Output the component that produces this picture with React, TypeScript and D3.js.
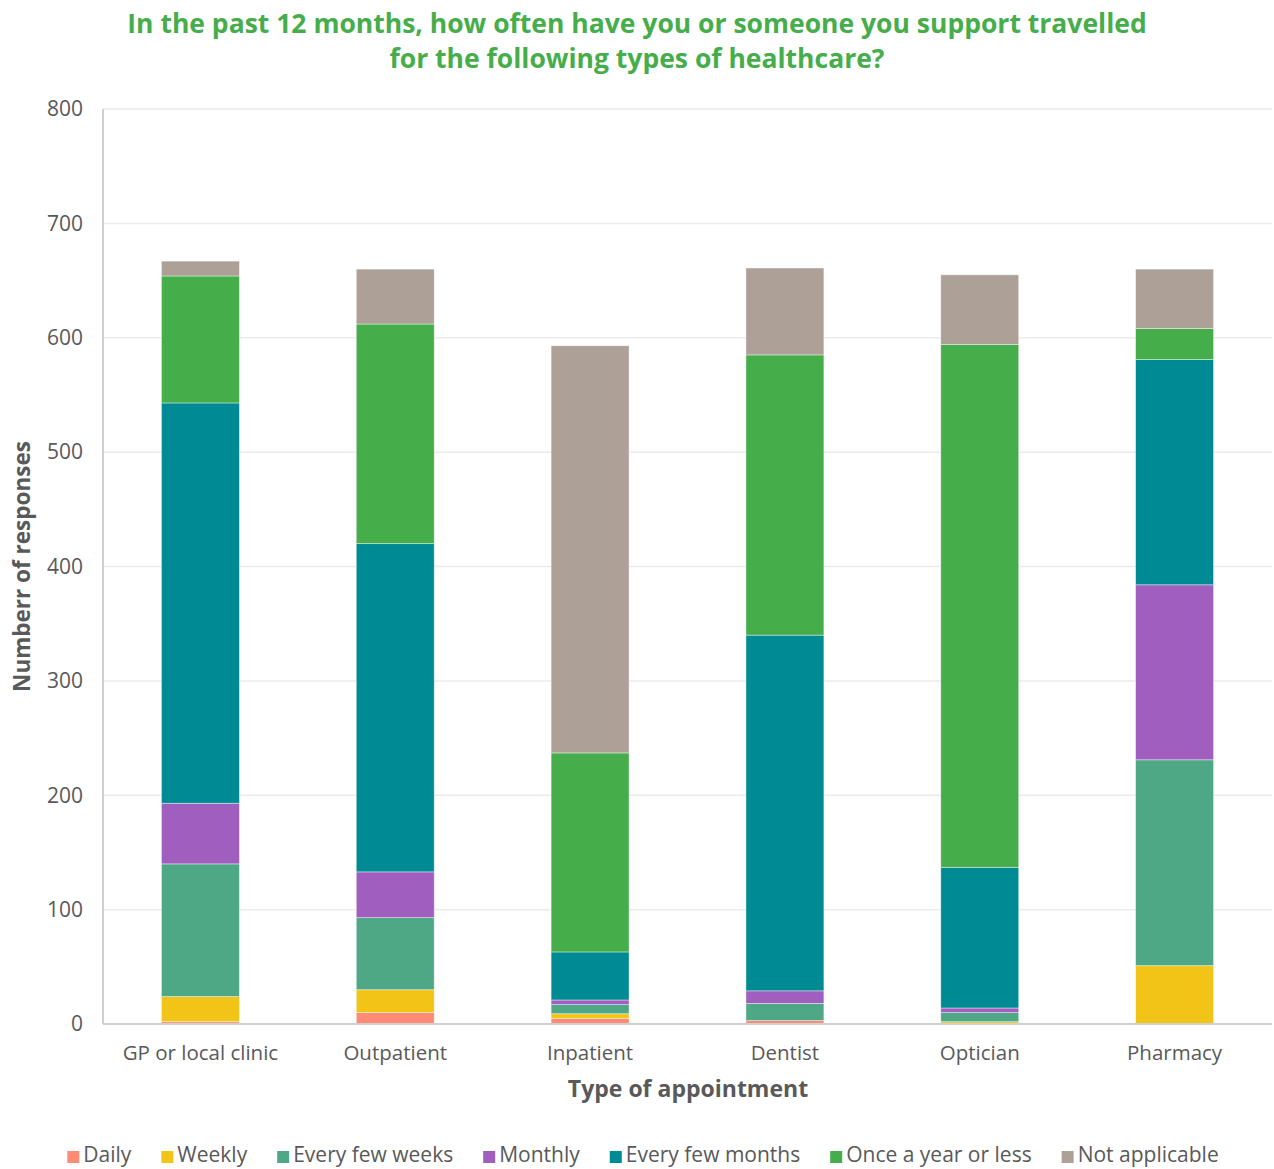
import React, { useEffect, useRef } from "react";
import * as d3 from "d3";

const categories = ["GP or local clinic", "Outpatient", "Inpatient", "Dentist", "Optician", "Pharmacy"];
const seriesNames = ["Daily", "Weekly", "Every few weeks", "Monthly", "Every few months", "Once a year or less", "Not applicable"];
const daily = [2, 10, 5, 3, 0, 0];
const weekly = [22, 20, 4, 0, 2, 51];
const everyFewWeeks = [116, 63, 8, 15, 8, 180];
const monthly = [53, 40, 4, 11, 4, 153];
const everyFewMonths = [350, 287, 42, 311, 123, 197];
const onceAYear = [111, 192, 174, 245, 457, 27];
const notApplicable = [13, 48, 356, 76, 61, 52];
const yTicks = [0, 100, 200, 300, 400, 500, 600, 700, 800];
const colors = ["#FF8A75", "#F2C417", "#4EA886", "#A05EBF", "#008A94", "#46AD4B", "#ACA097"];

const W = 1274, H = 1169;
const margin = { left: 103, right: 2, top: 109, bottom: 145 };
const FONT = "'Open Sans', Lato, sans-serif";

export default function App() {
  const legendRef = useRef<SVGGElement>(null);
  const values = [daily, weekly, everyFewWeeks, monthly, everyFewMonths, onceAYear, notApplicable];
  const rows = categories.map((c, i) => {
    const r: any = { cat: c };
    seriesNames.forEach((s, j) => (r[s] = values[j][i]));
    return r;
  });
  const stack = d3.stack<any>().keys(seriesNames)(rows);
  const x = d3.scaleBand().domain(categories).range([margin.left, W - margin.right]).paddingInner(0.6).paddingOuter(0.3);
  const y = d3.scaleLinear().domain([0, 800]).range([H - margin.bottom, margin.top]);

  useEffect(() => {
    const g = d3.select(legendRef.current);
    if (!g.node()) return;
    const items = g.selectAll<SVGGElement, unknown>("g.item").nodes();
    const gap = 30;
    const widths = items.map((n) => {
      const t = n.querySelector("text") as SVGTextElement;
      return 16 + t.getComputedTextLength();
    });
    const total = d3.sum(widths) + gap * (widths.length - 1);
    let cx = (W - total) / 2 + 6;
    items.forEach((n, i) => {
      n.setAttribute("transform", `translate(${cx},0)`);
      cx += widths[i] + gap;
    });
  }, []);

  return (
    <svg width={W} height={H} style={{ display: "block", position: "absolute", left: 0, top: 0, background: "#fff" }} fontFamily={FONT}>
      <text x={637} y={33} textAnchor="middle" fontSize={26.5} fontWeight={700} fill="#46AD4B">
        In the past 12 months, how often have you or someone you support travelled
      </text>
      <text x={637} y={68} textAnchor="middle" fontSize={26.5} fontWeight={700} fill="#46AD4B">
        for the following types of healthcare?
      </text>
      {yTicks.map((t) => (
        <g key={t}>
          {t > 0 && <line x1={margin.left} x2={W - margin.right} y1={y(t)} y2={y(t)} stroke="#ebebeb" strokeWidth={1.5} />}
          <text x={83} y={y(t)} dy="0.35em" textAnchor="end" fontSize={21} fill="#595959">{t}</text>
        </g>
      ))}
      {stack.map((s, j) => (
        <g key={s.key} fill={colors[j]}>
          {s.map((d, i) => (
            <rect key={i} x={x(categories[i])} width={x.bandwidth()} y={y(d[1])} height={Math.max(0, y(d[0]) - y(d[1]))}
              stroke="#ffffff" strokeOpacity={0.5} strokeWidth={0.8} />
          ))}
        </g>
      ))}
      <line x1={margin.left} x2={margin.left} y1={margin.top} y2={y(0)} stroke="#cfcfcf" strokeWidth={2} />
      <line x1={margin.left} x2={W - margin.right} y1={y(0)} y2={y(0)} stroke="#cfcfcf" strokeWidth={2} />
      {categories.map((c) => (
        <text key={c} x={x(c)! + x.bandwidth() / 2} y={1060} textAnchor="middle" fontSize={20.5} fill="#595959">{c}</text>
      ))}
      <text x={688} y={1097} textAnchor="middle" fontSize={23} fontWeight={700} fill="#595959">Type of appointment</text>
      <text transform={`translate(30,${(margin.top + y(0)) / 2}) rotate(-90)`} textAnchor="middle" fontSize={22.5} fontWeight={700} fill="#595959">Numberr of responses</text>
      <g ref={legendRef} transform="translate(0,1155)">
        {seriesNames.map((s, j) => (
          <g className="item" key={s}>
            <rect x={0} y={-4} width={12} height={12} fill={colors[j]} />
            <text x={16} y={0} dy="0.35em" fontSize={21} fill="#595959">{s}</text>
          </g>
        ))}
      </g>
    </svg>
  );
}
